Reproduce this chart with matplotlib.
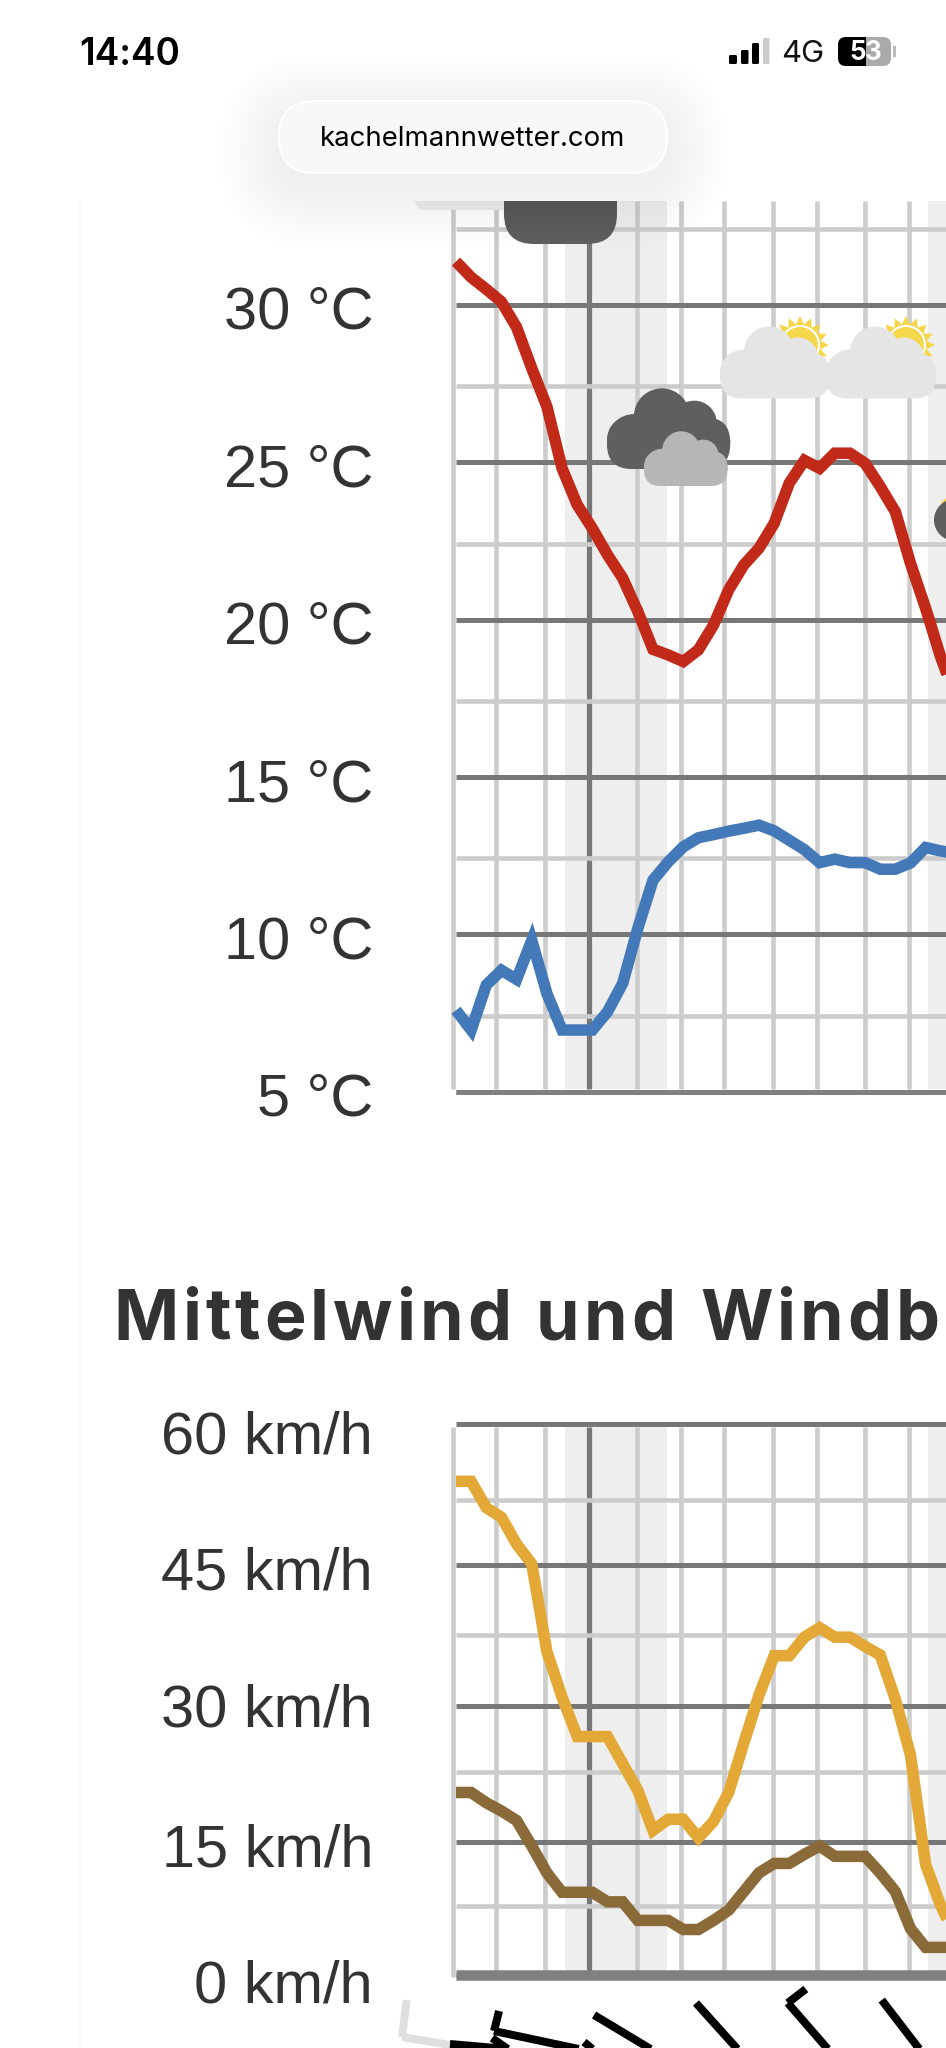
import numpy as np
import matplotlib
matplotlib.use("Agg")
import matplotlib.pyplot as plt
from matplotlib.patches import Circle, FancyBboxPatch, Rectangle, Polygon, Arc

W, H = 946, 2048
PX = 72 / 100  # points per pixel at dpi 100

# hours since the left edge of the meteogram
hours = list(range(34))
temp_red = [31.38, 30.88, 30.5, 30.1, 29.29, 27.99, 26.77, 24.81, 23.65, 22.9, 22.06, 21.32,
            20.26, 19.06, 18.88, 18.67, 19.04, 19.83, 20.95, 21.74, 22.27, 23.06, 24.34, 25.06,
            24.81, 25.29, 25.29, 24.97, 24.23, 23.43, 21.79, 20.36, 18.8, 17.5]
temp_blue = [7.59, 6.96, 8.39, 8.86, 8.57, 9.81, 8.12, 6.96, 6.96, 6.96, 7.54, 8.44,
             10.19, 11.72, 12.3, 12.78, 13.07, 13.17, 13.28, 13.37, 13.47, 13.29, 12.99, 12.69,
             12.28, 12.39, 12.28, 12.28, 12.07, 12.07, 12.27, 12.76, 12.65, 12.57]
wind_gust = [54.33, 54.33, 51.59, 50.49, 47.39, 45.1, 35.75, 30.92, 26.51, 26.51, 26.51, 23.44,
             20.52, 16.23, 17.42, 17.42, 15.44, 17.2, 20.3, 25.8, 31.14, 35.31, 35.31, 37.28,
             38.29, 37.28, 37.28, 36.3, 35.39, 30.7, 24.4, 12.34, 7.5, 4.1]
wind_mean = [20.29, 20.29, 19.19, 18.31, 17.29, 14.52, 11.37, 9.1, 9.1, 9.1, 7.98, 7.98,
             5.93, 5.93, 5.93, 4.94, 4.94, 5.93, 7.05, 9.19, 11.37, 12.48, 12.48, 13.55,
             14.52, 13.31, 13.31, 13.31, 11.37, 9.19, 5.03, 3.0, 3.0, 3.0]

temp_ticks = [30, 25, 20, 15, 10, 5]
temp_minor = [32.42, 27.42, 22.42, 17.42, 12.42, 7.42]
temp_labels = ["30 °C", "25 °C", "20 °C", "15 °C", "10 °C", "5 °C"]
wind_ticks = [60, 45, 30, 15, 0]
wind_minor = [52.5, 37.5, 22.5, 7.5]
wind_labels = ["60 km/h", "45 km/h", "30 km/h", "15 km/h", "0 km/h"]
wind_label_shift = [30, 25, 21, 25, 28]

# the wind axis of the page is not quite linear
wind_scale_vals = [-5, 0, 7.5, 15, 22.5, 30, 37.5, 45, 52.5, 60, 65]
wind_scale_px = [-40, 0, 69, 133, 203, 269, 339.7, 410, 474.8, 550.8, 591]

grid_hours = [-0.2, 2.66, 5.89, 8.78, 11.97, 14.87, 17.71, 20.94, 23.81, 27.02, 29.9]
midnight = 8.78
night_bands = [(7.17, 13.9), (31.15, 33.0)]

# wind barbs in the row under the chart
barb_hours = [-3.56, -0.4, 2.38, 2.51, 8.45, 9.11, 15.84, 21.9, 28.1]
barb_tops = [2037, 2044, 2038, 2031, 2042, 2015, 2003, 2003, 2000]
barb_angles = [9.5, 5, 35, 12, 40, 31, 48, 49, 52.5]
barb_lengths = [48, 90, 90, 90, 90, 90, 90, 90, 90]
barb_colors = ["#dfdfdf"] + ["black"] * 8
barb_feather_dx = [4.6, 0, 0, 5, 0, 0, 0, 18, 0]
barb_feather_dy = [-37, 0, 0, -20, 0, 0, 0, -14, 0]

title = "Mittelwind und Windb"

DARK = "#777777"
LIGHT = "#cccccc"
BAND = "#eeeeee"
TEXT = "#333333"
HOUR_PX = 15.15
X0_PX = 456


def axes_px(fig, left, top, right, bottom, zorder=1):
    ax = fig.add_axes([left / W, 1 - bottom / H, (right - left) / W, (bottom - top) / H], zorder=zorder)
    ax.patch.set_alpha(0)
    return ax


def draw_grid(ax, ylow, yhigh, ticks, minor, bottom_lw=5):
    for lo, hi in night_bands:
        ax.fill_between([lo, hi], ylow, yhigh, color=BAND, lw=0, zorder=0.5)
    for h in grid_hours:
        dark = h == midnight
        ax.vlines(h, ylow, yhigh, color=DARK if dark else LIGHT, lw=(5.2 if dark else 4.6) * PX, zorder=1)
    ax.hlines(minor, 0, 40, color=LIGHT, lw=4.6 * PX, zorder=2)
    ax.hlines(ticks, 0, 40, color=DARK, lw=5 * PX, zorder=3)
    ax.hlines(min(ticks), 0, 40, color="#808080", lw=bottom_lw * PX, zorder=3)
    ax.set_xlim((450 - X0_PX) / HOUR_PX, (W - X0_PX) / HOUR_PX)
    ax.axis("off")


def draw_line(ax, values, color):
    ax.plot(hours, values, color=color, lw=11.5 * PX, solid_joinstyle="miter",
            solid_capstyle="butt", zorder=4)


def cloud(ax, x, y, s, color, z=2):
    # lobes relative to a cloud of 110x72 px, x/y is its lower left corner
    lobes = [(24, -25, 24), (49, -47, 25), (78, -41, 20), (95, -24, 15)]
    for dx, dy, r in lobes:
        ax.add_patch(Circle((x + dx * s, y + dy * s), r * s, fc=color, ec="none", zorder=z))
    ax.add_patch(FancyBboxPatch((x + 22 * s, y - 24 * s), 66 * s, 2 * s,
                                boxstyle=f"round,pad={22 * s},rounding_size={22 * s}",
                                fc=color, ec="none", zorder=z))


def sun(ax, x, y, z=1.5):
    angles = np.linspace(0, 2 * np.pi, 32, endpoint=False)
    radii = np.where(np.arange(32) % 2 == 0, 29, 21)
    ax.add_patch(Polygon(np.c_[x + radii * np.cos(angles), y + radii * np.sin(angles)],
                         fc="#f6d64a", ec="none", zorder=z))
    ax.add_patch(Arc((x, y), 38, 38, theta1=-210, theta2=30, color="white", lw=1.5, zorder=z + 0.1))


def tracked_text(ax, x, y, s, tracking, **kw):
    # matplotlib has no letter spacing, so the word is set one glyph at a time
    renderer = ax.figure.canvas.get_renderer()
    for i, ch in enumerate(s):
        probe = ax.text(0, 0, s[:i] + "|", **kw)
        bar = ax.text(0, 0, "|", **kw)
        advance = probe.get_window_extent(renderer).width - bar.get_window_extent(renderer).width
        probe.remove()
        bar.remove()
        ax.text(x + advance + i * tracking, y, ch, ha="left", va="baseline", **kw)


fig = plt.figure(figsize=(W / 100, H / 100), dpi=100, facecolor="white")
plt.rcParams["font.family"] = ["Liberation Sans", "DejaVu Sans"]

# temperature panel
px_per_deg = 31.48
ax_temp = axes_px(fig, 450, 201, W, 1100)
draw_grid(ax_temp, 5.1, 33.3, temp_ticks, temp_minor)
ax_temp.set_ylim(5 - (1100 - 1091.7) / px_per_deg, 30 + (305 - 201) / px_per_deg)
draw_line(ax_temp, temp_red, "#c12a18")
draw_line(ax_temp, temp_blue, "#4379b8")
for v, s in zip(temp_ticks, temp_labels):
    ax_temp.annotate(s, xy=(0, v), xycoords=ax_temp.get_yaxis_transform(), xytext=(-77, -24),
                     textcoords="offset pixels", ha="right", va="baseline", fontsize=59.5 * PX, color=TEXT)

# wind panel
ax_wind = axes_px(fig, 450, 1415, W, 1990)
ax_wind.set_yscale("function", functions=(lambda v: np.interp(v, wind_scale_vals, wind_scale_px),
                                          lambda p: np.interp(p, wind_scale_px, wind_scale_vals)))
draw_grid(ax_wind, -0.3, 59.7, wind_ticks, wind_minor, bottom_lw=10.5)
ax_wind.set_ylim(-1.875, 61.1)
draw_line(ax_wind, wind_gust, "#e3a835")
draw_line(ax_wind, wind_mean, "#8a6a39")
for v, s, dy in zip(wind_ticks, wind_labels, wind_label_shift):
    ax_wind.annotate(s, xy=(0, v), xycoords=ax_wind.get_yaxis_transform(), xytext=(-77, -dy),
                     textcoords="offset pixels", ha="right", va="baseline", fontsize=59.5 * PX, color=TEXT)

# barbs, x in hours, y in page pixels
ax_barb = axes_px(fig, 380, 1985, W, H, zorder=2)
ax_barb.set_xlim((380 - X0_PX) / HOUR_PX, (W - X0_PX) / HOUR_PX)
ax_barb.set_ylim(H, 1985)
ax_barb.axis("off")
for h, top, a, length, c, fx, fy in zip(barb_hours, barb_tops, barb_angles, barb_lengths, barb_colors,
                                        barb_feather_dx, barb_feather_dy):
    dx = length * np.cos(np.radians(a))
    dy = length * np.sin(np.radians(a))
    ax_barb.plot([h, h + dx / HOUR_PX], [top, top + dy], color=c, lw=8 * PX, solid_capstyle="butt")
    if fx or fy:
        ax_barb.plot([h, h + fx / HOUR_PX], [top, top + fy], color=c, lw=8 * PX, solid_capstyle="butt")

# icons and phone chrome, in page pixels
ov = axes_px(fig, 0, 0, W, H, zorder=5)
ov.set_xlim(0, W)
ov.set_ylim(H, 0)
ov.axis("off")

ov.add_patch(FancyBboxPatch((425, 190), 80, 10, boxstyle="round,pad=10,rounding_size=10",
                            fc="#ececec", ec="none", zorder=1))
ov.add_patch(Polygon([(600, 203), (612, 203), (606, 210)], fc="#f6d64a", ec="none", zorder=1))
ov.add_patch(FancyBboxPatch((534, 170), 53, 44, boxstyle="round,pad=30,rounding_size=30",
                            fc="#5f5f5f", ec="none", zorder=2))
cloud(ov, 607, 469, 1.12, "#5f5f5f", z=2)
cloud(ov, 644, 486, 0.76, "#b6b6b6", z=3)
for x in (720, 826):
    sun(ov, x + 80, 345)
    cloud(ov, x, 398.5, 1.0, "#e5e5e5", z=2)
ov.add_patch(Polygon([(946, 498), (946, 508), (941, 503)], fc="#f6d64a", ec="none", zorder=2))
ov.add_patch(Circle((955, 520), 21, fc="#5f5f5f", ec="none", zorder=2))

ov.add_patch(Rectangle((0, 0), W, 201, fc="white", ec="none", zorder=6))
ov.vlines(80, 201, H, color="#f7f7f7", lw=1.5, zorder=0.5)
for pad in range(4, 64, 4):
    ov.add_patch(FancyBboxPatch((279 + 36, 101 + 36 + 14), 388 - 72, 0,
                                boxstyle=f"round,pad={36 + pad},rounding_size={36 + pad}",
                                fc="black", ec="none", alpha=0.0035, zorder=7))
ov.add_patch(FancyBboxPatch((279 + 36, 101 + 36), 388 - 72, 0, boxstyle="round,pad=36,rounding_size=36",
                            fc="#f8f8f8", ec="white", lw=1.5, zorder=8))
ov.text(472.5, 139, "kachelmannwetter.com", family="Inter", fontsize=27.6 * PX, color="black",
        ha="center", va="center", zorder=9)
ov.text(130, 55, "14:40", family="Inter", weight="semibold", fontsize=37 * PX, color="black",
        ha="center", va="center", zorder=9)
ov.text(803, 54, "4G", family="Inter", fontsize=31 * PX, color="#111111", ha="center", va="center", zorder=9)
for x, w, top, c in [(729, 8, 55, "black"), (741, 7.5, 50, "black"), (752, 7, 43, "black"), (763, 6.5, 38, "#cccccc")]:
    ov.add_patch(FancyBboxPatch((x + 1, top + 1), w - 2, 64 - top - 2, boxstyle="round,pad=1,rounding_size=1.5",
                                fc=c, ec="none", zorder=9))
batt_grey = FancyBboxPatch((845, 44), 39, 15, boxstyle="round,pad=7,rounding_size=8", fc="#aaaaaa", ec="none", zorder=9)
batt_black = FancyBboxPatch((845, 44), 39, 15, boxstyle="round,pad=7,rounding_size=8", fc="black", ec="none", zorder=9.1)
ov.add_patch(batt_grey)
ov.add_patch(batt_black)
batt_black.set_clip_path(Rectangle((838, 30), 28, 50, transform=ov.transData))
ov.add_patch(Rectangle((893, 46), 3, 11, fc="#bbbbbb", ec="none", zorder=9))
ov.text(857.5, 53, "5", family="Inter", weight="bold", fontsize=26 * PX, color="white", ha="center", va="center", zorder=9.5)
ov.text(873, 53, "3", family="Inter", weight="bold", fontsize=26 * PX, color="white", ha="center", va="center", zorder=9.5)

tracked_text(ov, 113, 1340, title, 4.0, family="Inter", weight="bold", fontsize=70 * PX, color=TEXT, zorder=9)

fig.savefig("out.png", dpi=100)
